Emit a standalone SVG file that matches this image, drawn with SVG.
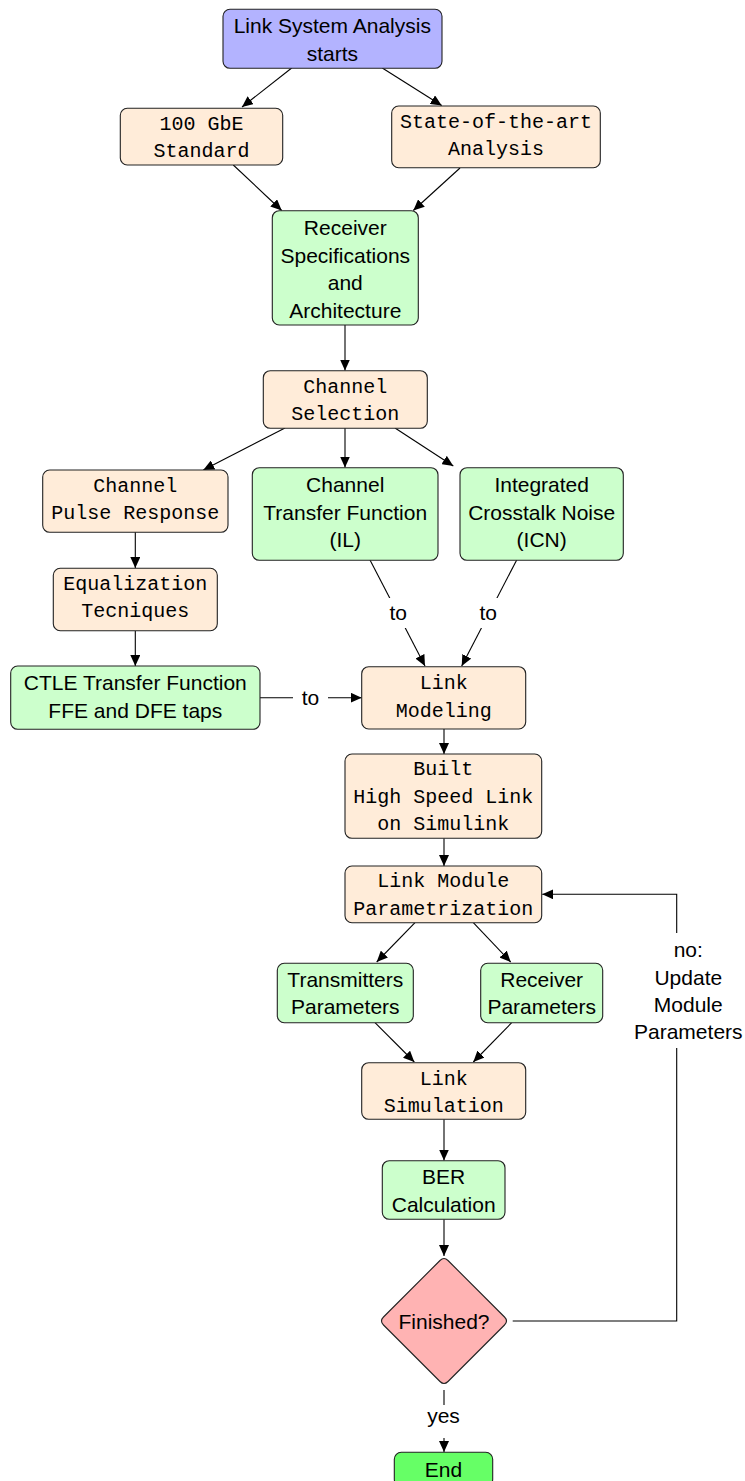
<svg xmlns="http://www.w3.org/2000/svg" width="745" height="1481" viewBox="0 0 745 1481">
<defs>
<marker id="arr" viewBox="0 0 11 10" refX="11" refY="5" markerWidth="11" markerHeight="10" markerUnits="userSpaceOnUse" orient="auto">
<path d="M0,0 L11,5 L0,10 z" fill="#000"/>
</marker>
<style>
.box{stroke:#222;stroke-width:1.1}
.start{fill:#b3b3ff}
.or{fill:#ffecd9}
.gr{fill:#ccffcc}
.red{fill:#ffb3b3}
.end{fill:#66ff66}
.sans{font-family:"Liberation Sans",Arial,sans-serif;font-size:21px;fill:#000;text-anchor:middle}
.mono{font-family:"Liberation Mono","Courier New",monospace;font-size:20px;fill:#000;text-anchor:middle}
.ln{stroke:#000;stroke-width:1.1;fill:none}
.a{marker-end:url(#arr)}
.lbg{fill:#fff}
</style>
</defs>
<rect width="745" height="1481" fill="#fff"/>

<g id="connectors">
<line class="ln a" x1="291.7" y1="68" x2="242" y2="107"/>
<line class="ln a" x1="382.3" y1="68" x2="441.7" y2="105.5"/>
<line class="ln a" x1="233.3" y1="165" x2="281.7" y2="210.5"/>
<line class="ln a" x1="460" y1="168" x2="413.3" y2="210.5"/>
<line class="ln a" x1="345" y1="325" x2="345" y2="370.5"/>
<line class="ln a" x1="285" y1="428" x2="203.3" y2="470"/>
<line class="ln a" x1="345" y1="428" x2="345" y2="467.5"/>
<line class="ln a" x1="395" y1="428" x2="453.3" y2="466"/>
<line class="ln a" x1="135.3" y1="532" x2="135.3" y2="568"/>
<line class="ln a" x1="135.3" y1="631" x2="135.3" y2="666"/>
<line class="ln a" x1="370" y1="560" x2="425" y2="666"/>
<rect class="lbg" x="387" y="598" width="23" height="30"/>
<text class="sans" x="398.3" y="620">to</text>
<line class="ln a" x1="516.7" y1="560" x2="461.7" y2="666"/>
<rect class="lbg" x="477" y="598" width="23" height="30"/>
<text class="sans" x="488.3" y="620">to</text>
<line class="ln a" x1="260" y1="697.7" x2="361.7" y2="697.7"/>
<rect class="lbg" x="293" y="684" width="35" height="26"/>
<text class="sans" x="310.5" y="705">to</text>
<line class="ln a" x1="444" y1="729" x2="444" y2="754"/>
<line class="ln a" x1="444" y1="838.3" x2="444" y2="866"/>
<line class="ln a" x1="415" y1="922.7" x2="376.7" y2="962"/>
<line class="ln a" x1="473.3" y1="922.7" x2="510.7" y2="962"/>
<line class="ln a" x1="375" y1="1022.7" x2="414.3" y2="1062"/>
<line class="ln a" x1="511.7" y1="1022.7" x2="473.3" y2="1062"/>
<line class="ln a" x1="444" y1="1119.3" x2="444" y2="1160.5"/>
<line class="ln a" x1="444" y1="1219.3" x2="444" y2="1256"/>
<polyline class="ln a" points="512.7,1321 676.7,1321 676.7,894.3 542.2,894.3"/>
<rect class="lbg" x="630" y="933" width="115" height="115"/>
<text class="sans" x="688.3" y="956.5">no:</text>
<text class="sans" x="688.3" y="984.5">Update</text>
<text class="sans" x="688.3" y="1011.5">Module</text>
<text class="sans" x="688.3" y="1039">Parameters</text>
<line class="ln a" x1="444" y1="1390" x2="444" y2="1452"/>
<rect class="lbg" x="425" y="1405" width="38" height="33"/>
<text class="sans" x="443.5" y="1423.3">yes</text>
</g>

<g id="start">
<rect class="box start" x="223" y="9.3" width="219" height="59" rx="7"/>
<text class="sans" x="332.3" y="33.3">Link System Analysis</text>
<text class="sans" x="332.3" y="61">starts</text>
</g>
<g id="gbe">
<rect class="box or" x="120.3" y="108.3" width="162.4" height="56.7" rx="7"/>
<text class="mono" x="201.5" y="130">100 GbE</text>
<text class="mono" x="201.5" y="157">Standard</text>
</g>
<g id="sota">
<rect class="box or" x="391.7" y="106" width="208.6" height="61.7" rx="7"/>
<text class="mono" x="496" y="128.3">State-of-the-art</text>
<text class="mono" x="496" y="155">Analysis</text>
</g>
<g id="rxspec">
<rect class="box gr" x="272.3" y="210.7" width="146" height="114.3" rx="7"/>
<text class="sans" x="345.3" y="235">Receiver</text>
<text class="sans" x="345.3" y="262.6">Specifications</text>
<text class="sans" x="345.3" y="290.2">and</text>
<text class="sans" x="345.3" y="317.8">Architecture</text>
</g>
<g id="chsel">
<rect class="box or" x="263.3" y="370.7" width="164" height="57.6" rx="7"/>
<text class="mono" x="345.3" y="393.3">Channel</text>
<text class="mono" x="345.3" y="420">Selection</text>
</g>
<g id="cpr">
<rect class="box or" x="42.7" y="470" width="185.3" height="62.3" rx="7"/>
<text class="mono" x="135.3" y="491.7">Channel</text>
<text class="mono" x="135.3" y="519">Pulse Response</text>
</g>
<g id="ctf">
<rect class="box gr" x="252.3" y="467.7" width="185.7" height="92.6" rx="7"/>
<text class="sans" x="345.2" y="492">Channel</text>
<text class="sans" x="345.2" y="519.5">Transfer Function</text>
<text class="sans" x="345.2" y="547">(IL)</text>
</g>
<g id="icn">
<rect class="box gr" x="460" y="467.7" width="163.3" height="92.6" rx="7"/>
<text class="sans" x="541.7" y="492">Integrated</text>
<text class="sans" x="541.7" y="519.5">Crosstalk Noise</text>
<text class="sans" x="541.7" y="547">(ICN)</text>
</g>
<g id="eq">
<rect class="box or" x="53.3" y="568.3" width="164" height="62.4" rx="7"/>
<text class="mono" x="135.3" y="590">Equalization</text>
<text class="mono" x="135.3" y="617">Tecniques</text>
</g>
<g id="ctle">
<rect class="box gr" x="10.7" y="666" width="249.3" height="63.3" rx="7"/>
<text class="sans" x="135.3" y="690">CTLE Transfer Function</text>
<text class="sans" x="135.3" y="717.6">FFE and DFE taps</text>
</g>
<g id="linkmod">
<rect class="box or" x="361.7" y="666.7" width="164" height="62.3" rx="7"/>
<text class="mono" x="443.7" y="689">Link</text>
<text class="mono" x="443.7" y="716.7">Modeling</text>
</g>
<g id="built">
<rect class="box or" x="345" y="754" width="196.7" height="84.3" rx="7"/>
<text class="mono" x="443.3" y="775">Built</text>
<text class="mono" x="443.3" y="803">High Speed Link</text>
<text class="mono" x="443.3" y="830">on Simulink</text>
</g>
<g id="lmp">
<rect class="box or" x="345" y="866" width="196.7" height="56.7" rx="7"/>
<text class="mono" x="443.3" y="887">Link Module</text>
<text class="mono" x="443.3" y="915">Parametrization</text>
</g>
<g id="txp">
<rect class="box gr" x="277.3" y="963.3" width="136" height="59.4" rx="7"/>
<text class="sans" x="345.3" y="987">Transmitters</text>
<text class="sans" x="345.3" y="1014">Parameters</text>
</g>
<g id="rxp">
<rect class="box gr" x="480.7" y="963.3" width="122" height="59.4" rx="7"/>
<text class="sans" x="541.7" y="987">Receiver</text>
<text class="sans" x="541.7" y="1014">Parameters</text>
</g>
<g id="linksim">
<rect class="box or" x="361.7" y="1062.7" width="164" height="56.6" rx="7"/>
<text class="mono" x="443.7" y="1085">Link</text>
<text class="mono" x="443.7" y="1112">Simulation</text>
</g>
<g id="ber">
<rect class="box gr" x="382.3" y="1160.7" width="122.7" height="58.6" rx="7"/>
<text class="sans" x="443.7" y="1184">BER</text>
<text class="sans" x="443.7" y="1211.7">Calculation</text>
</g>
<g id="finished">
<path class="box red" d="M448,1260.5 L504.5,1317 Q508.5,1321 504.5,1325 L448,1381.5 Q444,1385.5 440,1381.5 L383.5,1325 Q379.5,1321 383.5,1317 L440,1260.5 Q444,1256.5 448,1260.5 Z"/>
<text class="sans" x="444" y="1329">Finished?</text>
</g>
<g id="end">
<rect class="box end" x="394.3" y="1452.3" width="98.4" height="34" rx="7"/>
<text class="sans" x="443.5" y="1476.7">End</text>
</g>
</svg>
